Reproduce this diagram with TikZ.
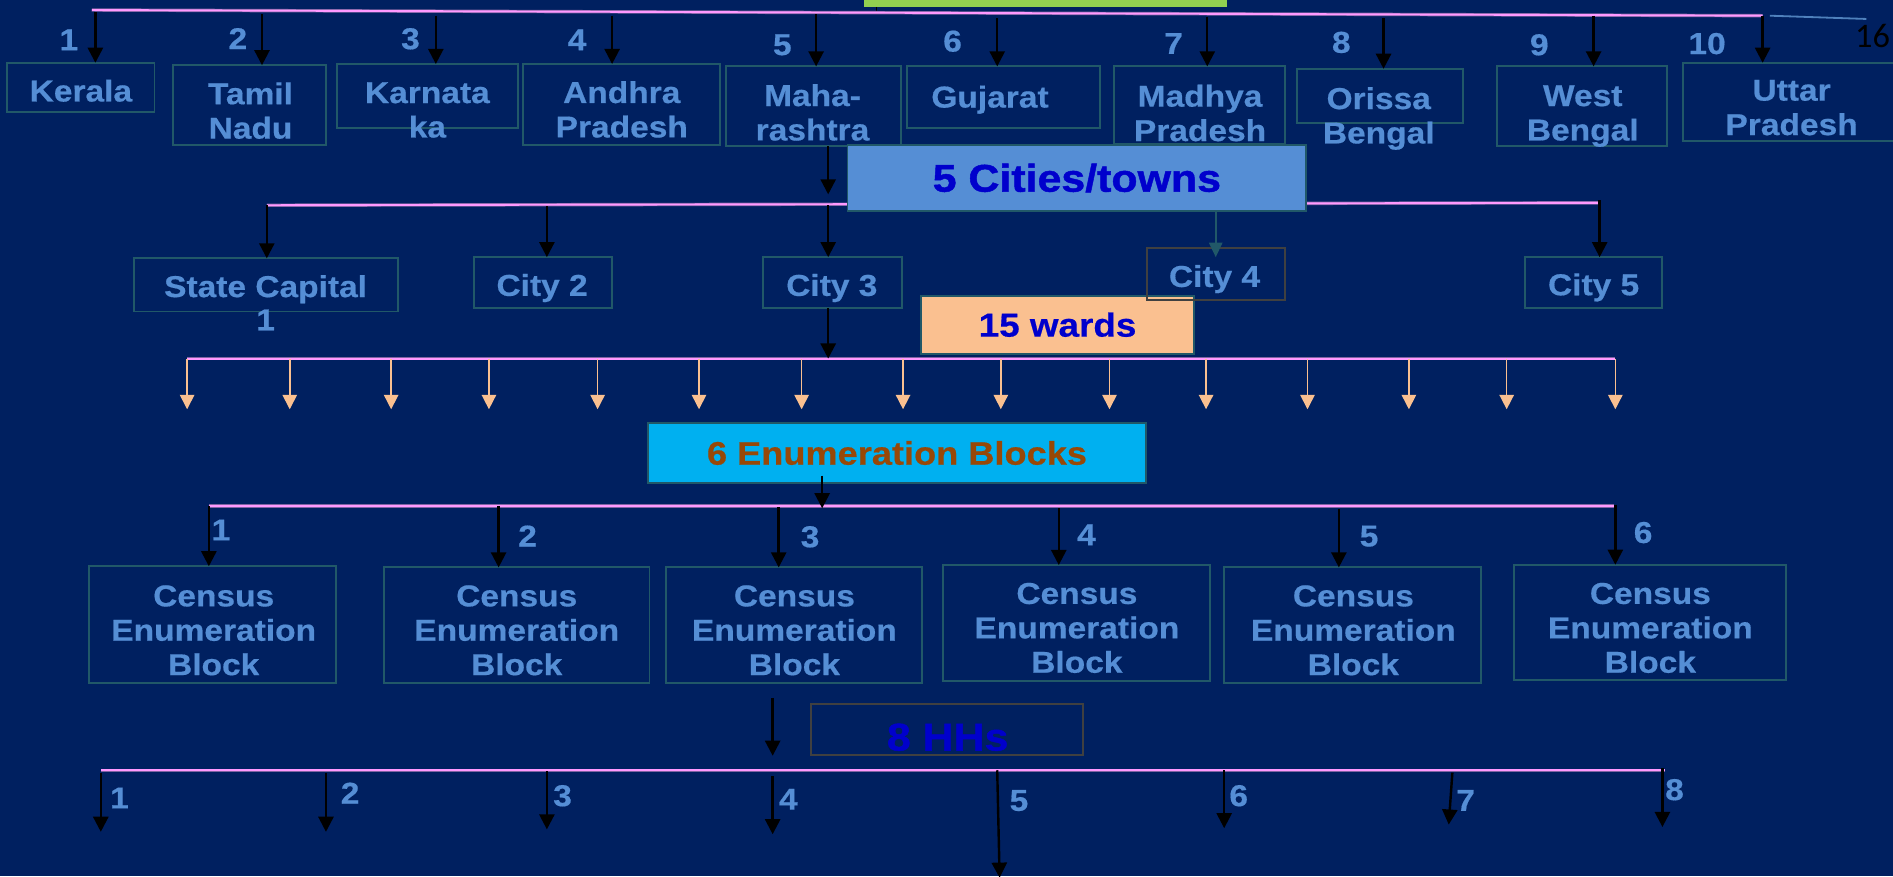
\documentclass[tikz,border=0pt]{standalone}
\usepackage{fontspec}
\usetikzlibrary{arrows.meta}
\newfontfamily\labfont{Liberation Sans}[FakeStretch=1.11,FakeBold=0.5]
\newfontfamily\heavyfont{Liberation Sans}[FakeStretch=1.11,FakeBold=1.2]
\newfontfamily\pagefont{Carlito}
\definecolor{bg}{HTML}{002060}
\definecolor{txtblue}{HTML}{558ED5}
\definecolor{boxteal}{HTML}{215868}
\definecolor{boxgray}{HTML}{404040}
\definecolor{cityfill}{HTML}{558ED5}
\definecolor{wardfill}{HTML}{FAC090}
\definecolor{ebfill}{HTML}{00B0F0}
\definecolor{titleblue}{HTML}{0000CC}
\definecolor{ebbrown}{HTML}{984807}
\definecolor{topgreen}{HTML}{92D050}
\definecolor{pinkcore}{HTML}{FF99FF}
\definecolor{pinkedge}{HTML}{8064A2}
\definecolor{thinblue}{HTML}{4F81BD}
\tikzset{
  lbl/.style={font=\labfont\bfseries\fontsize{25}{28.5}\selectfont, text=txtblue, align=center, inner sep=0pt, text depth=0pt},
  bx/.style={draw=boxteal, line width=1.6pt, inner sep=0pt, outer sep=0pt},
  gbx/.style={draw=boxgray, line width=1.6pt, inner sep=0pt, outer sep=0pt},
  arr/.style={draw=black, line width=2pt, -{Triangle[length=12.5pt,width=12.5pt]}},
  tarr/.style={draw=boxteal, line width=1.6pt, -{Triangle[length=12pt,width=11pt]}},
  parr/.style={draw=wardfill, line width=1.3pt, -{Triangle[length=12pt,width=12pt]}},
  hline/.style={draw=pinkedge, line width=0.6pt, double=pinkcore, double distance=1.6pt},
}
\begin{document}
\begin{tikzpicture}[x=1pt,y=-1pt]
\useasboundingbox (0,0) rectangle (1568,726);
\clip (0,0) rectangle (1568,726);
\fill[bg] (0,0) rectangle (1568,726);

% top green title bar (mostly off picture)
\node[fill=topgreen, inner sep=0pt, minimum width=300, minimum height=10] (title) at (866,0.5) {};
\coordinate (tt) at (726,10);
\draw[black, line width=1.5pt] (title.south -| tt) -- (tt);

% ---------- states ----------
\coordinate (tl) at (76,8.3);
\coordinate (tr) at (1460,13);
\draw[hline] (tl) -- (tr);
\coordinate (tx) at (1466,13);
\coordinate (ty) at (1546,15.7);
\draw[thinblue, line width=1.5pt] (tx) -- (ty);
\node[font=\pagefont\fontsize{28.5}{30}\selectfont, text=black, inner sep=0pt] (page) at (1551,30) {16};

\node[bx, minimum width=122, minimum height=41] (s1) at (67,72.5) {};
\node[bx, minimum width=127, minimum height=66] (s2) at (206.5,87) {};
\node[bx, minimum width=150, minimum height=53] (s3) at (354,79.5) {};
\node[bx, minimum width=163, minimum height=67] (s4) at (514.5,86.5) {};
\node[bx, minimum width=145, minimum height=66] (s5) at (673.5,88) {};
\node[bx, minimum width=160, minimum height=51] (s6) at (831,80.5) {};
\node[bx, minimum width=141, minimum height=64] (s7) at (993.5,87) {};
\node[bx, minimum width=138, minimum height=45] (s8) at (1143,79.5) {};
\node[bx, minimum width=141, minimum height=66] (s9) at (1310.5,88) {};
\node[bx, minimum width=186, minimum height=65] (s10) at (1487,84.5) {};

\node[lbl] (s1t) at (67,75) {Kerala};
\node[lbl] (s2t) at (207.5,91.5) {Tamil\\Nadu};
\node[lbl] (s3t) at (354,91) {Karnata\\ka};
\node[lbl] (s4t) at (515,90.5) {Andhra\\Pradesh};
\node[lbl] (s5t) at (673,93) {Maha-\\rashtra};
\node[lbl] (s6t) at (820,80) {Gujarat};
\node[lbl] (s7t) at (994,93.5) {Madhya\\Pradesh};
\node[lbl] (s8t) at (1142,95.5) {Orissa\\Bengal};
\node[lbl] (s9t) at (1311,93.5) {West\\Bengal};
\node[lbl] (s10t) at (1484,89) {Uttar\\Pradesh};

\node[lbl] (n1) at (57,33) {1};
\node[lbl] (n2) at (197,32) {2};
\node[lbl] (n3) at (340,32) {3};
\node[lbl] (n4) at (478,33) {4};
\node[lbl] (n5) at (648,37) {5};
\node[lbl] (n6) at (789,34) {6};
\node[lbl] (n7) at (972,36) {7};
\node[lbl] (n8) at (1111,35) {8};
\node[lbl] (n9) at (1275,37) {9};
\node[lbl] (n10) at (1414,36) {10};

\coordinate (a1) at (79,10);
\coordinate (a2) at (217,12);
\coordinate (a3) at (361,13);
\coordinate (a4) at (507,13);
\coordinate (a5) at (676,12);
\coordinate (a6) at (826,15);
\coordinate (a7) at (1000,14);
\coordinate (a8) at (1146,15);
\coordinate (a9) at (1320,13);
\coordinate (a10) at (1460,13);
\draw[arr] (a1) -- (a1 |- s1.north);
\draw[arr] (a2) -- (a2 |- s2.north);
\draw[arr] (a3) -- (a3 |- s3.north);
\draw[arr] (a4) -- (a4 |- s4.north);
\draw[arr] (a5) -- (a5 |- s5.north);
\draw[arr] (a6) -- (a6 |- s6.north);
\draw[arr] (a7) -- (a7 |- s7.north);
\draw[arr] (a8) -- (a8 |- s8.north);
\draw[arr] (a9) -- (a9 |- s9.north);
\draw[arr] (a10) -- (a10 |- s10.north);

% ---------- cities ----------
\coordinate (cl) at (221,170);
\coordinate (cr) at (1325,168);
\draw[hline] (cl) -- (cr);
\coordinate (m5) at (686,161);
\draw[arr] (s5.south -| m5) -- (m5);

\node[bx, fill=cityfill, minimum width=380, minimum height=55] (ct) at (892,147.5)
  {\heavyfont\bfseries\fontsize{32}{34}\selectfont\color{titleblue}5 Cities/towns};

\node[bx, minimum width=219, minimum height=44] (c1) at (220.5,236) {};
\node[bx, minimum width=114, minimum height=42] (c2) at (450,234) {};
\node[bx, minimum width=115, minimum height=42] (c3) at (689.5,234) {};
\node[bx, minimum width=114, minimum height=42] (c5) at (1320,234) {};

\node[lbl] (c1t) at (220,237) {State Capital};
\node[lbl] (c1n) at (220,265) {1};
\node[lbl] (c2t) at (449,236) {City 2};
\node[lbl] (c3t) at (689,236) {City 3};
\node[lbl] (c5t) at (1320,235.5) {City 5};

\coordinate (k1) at (221,170);
\coordinate (k2) at (453,171);
\coordinate (k3) at (686,170);
\coordinate (k5) at (1325,166);
\draw[arr] (k1) -- (k1 |- c1.north);
\draw[arr] (k2) -- (k2 |- c2.north);
\draw[arr] (k3) -- (k3 |- c3.north);
\draw[arr] (k5) -- (k5 |- c5.north);

% ---------- wards ----------
\coordinate (wl) at (155,297);
\coordinate (wr) at (1338,297);
\draw[hline] (wl) -- (wr);
\coordinate (w3) at (686,297);
\draw[arr] (c3.south -| w3) -- (w3);

\node[bx, fill=wardfill, minimum width=226, minimum height=48] (wd) at (876,269)
  {\labfont\bfseries\fontsize{27.5}{30}\selectfont\color{titleblue}15 wards};

% city 4 drawn over the wards box
\node[gbx, minimum width=114, minimum height=43] (c4) at (1007,227) {};
\node[lbl] (c4t) at (1006,228.6) {City 4};
\coordinate (k4) at (1007,213);
\draw[tarr] (ct.south -| k4) -- (k4);

\foreach \x [count=\i] in {155,240,324,405,495,579,664,748,829,919,999,1083,1167,1248,1338}{
  \coordinate (wa\i) at (\x,297);
  \coordinate (wb\i) at (\x,339);
  \draw[parr] (wa\i) -- (wb\i);
}

% ---------- enumeration blocks ----------
\coordinate (el) at (173,419);
\coordinate (er) at (1337,419);
\draw[hline] (el) -- (er);

\node[bx, fill=ebfill, minimum width=412, minimum height=49.5] (eb) at (743,375.25)
  {\labfont\bfseries\fontsize{27}{30}\selectfont\color{ebbrown}6 Enumeration Blocks};
\coordinate (e0) at (681,394);
\coordinate (e0b) at (681,421);
\draw[arr] (e0) -- (e0b);

\node[bx, minimum width=204.5, minimum height=96.5] (b1) at (176.3,517.3) {};
\node[bx, minimum width=220, minimum height=96] (b2) at (428,518) {};
\node[bx, minimum width=212, minimum height=96] (b3) at (658,518) {};
\node[bx, minimum width=221.6, minimum height=96] (b4) at (891.8,516) {};
\node[bx, minimum width=213, minimum height=96] (b5) at (1120.5,518) {};
\node[bx, minimum width=225, minimum height=95.3] (b6) at (1366.5,515.4) {};

\node[lbl] (b1t) at (177,522) {Census\\Enumeration\\Block};
\node[lbl] (b2t) at (428,522) {Census\\Enumeration\\Block};
\node[lbl] (b3t) at (658,522) {Census\\Enumeration\\Block};
\node[lbl] (b4t) at (892,520) {Census\\Enumeration\\Block};
\node[lbl] (b5t) at (1121,522) {Census\\Enumeration\\Block};
\node[lbl] (b6t) at (1367,520) {Census\\Enumeration\\Block};

\node[lbl] (bn1) at (183,439) {1};
\node[lbl] (bn2) at (437,444) {2};
\node[lbl] (bn3) at (671,444.5) {3};
\node[lbl] (bn4) at (900,443) {4};
\node[lbl] (bn5) at (1134,444) {5};
\node[lbl] (bn6) at (1361,441) {6};

\coordinate (e1) at (173,419);
\coordinate (e2) at (413,419);
\coordinate (e3) at (645,420);
\coordinate (e4) at (877,421);
\coordinate (e5) at (1109,421.7);
\coordinate (e6) at (1338,418);
\draw[arr] (e1) -- (e1 |- b1.north);
\draw[arr] (e2) -- (e2 |- b2.north);
\draw[arr] (e3) -- (e3 |- b3.north);
\draw[arr] (e4) -- (e4 |- b4.north);
\draw[arr] (e5) -- (e5 |- b5.north);
\draw[arr] (e6) -- (e6 |- b6.north);

% ---------- households ----------
\coordinate (hs) at (640,578);
\coordinate (hse) at (640,626);
\draw[arr] (hs) -- (hse);

\node[gbx, minimum width=225, minimum height=42.6] (hh) at (784.5,604.3) {};
\node[font=\heavyfont\bfseries\fontsize{32}{34}\selectfont, text=titleblue, inner sep=0pt, text depth=0pt] (hht) at (785,610.5) {8 HHs};

\coordinate (hl) at (84,638);
\coordinate (hr) at (1379,638);
\draw[hline] (hl) -- (hr);

\coordinate (h1) at (83.5,640);  \coordinate (h1e) at (83.5,689);
\coordinate (h2) at (270,640);   \coordinate (h2e) at (270,689);
\coordinate (h3) at (453,639);   \coordinate (h3e) at (453,687);
\coordinate (h4) at (640,643);   \coordinate (h4e) at (640,691);
\coordinate (h5) at (826,638);   \coordinate (h5e) at (828,727);
\coordinate (h6) at (1014,638);  \coordinate (h6e) at (1014,686);
\coordinate (h7) at (1203,640);  \coordinate (h7e) at (1200,683);
\coordinate (h8) at (1377,636);  \coordinate (h8e) at (1377,685);
\foreach \i in {1,...,8}{ \draw[arr] (h\i) -- (h\i e); }

\node[lbl] (hn1) at (99,661) {1};
\node[lbl] (hn2) at (290,657) {2};
\node[lbl] (hn3) at (466,659) {3};
\node[lbl] (hn4) at (653,662) {4};
\node[lbl] (hn5) at (844,663) {5};
\node[lbl] (hn6) at (1026,659) {6};
\node[lbl] (hn7) at (1214,663) {7};
\node[lbl] (hn8) at (1387,654) {8};
\end{tikzpicture}
\end{document}
